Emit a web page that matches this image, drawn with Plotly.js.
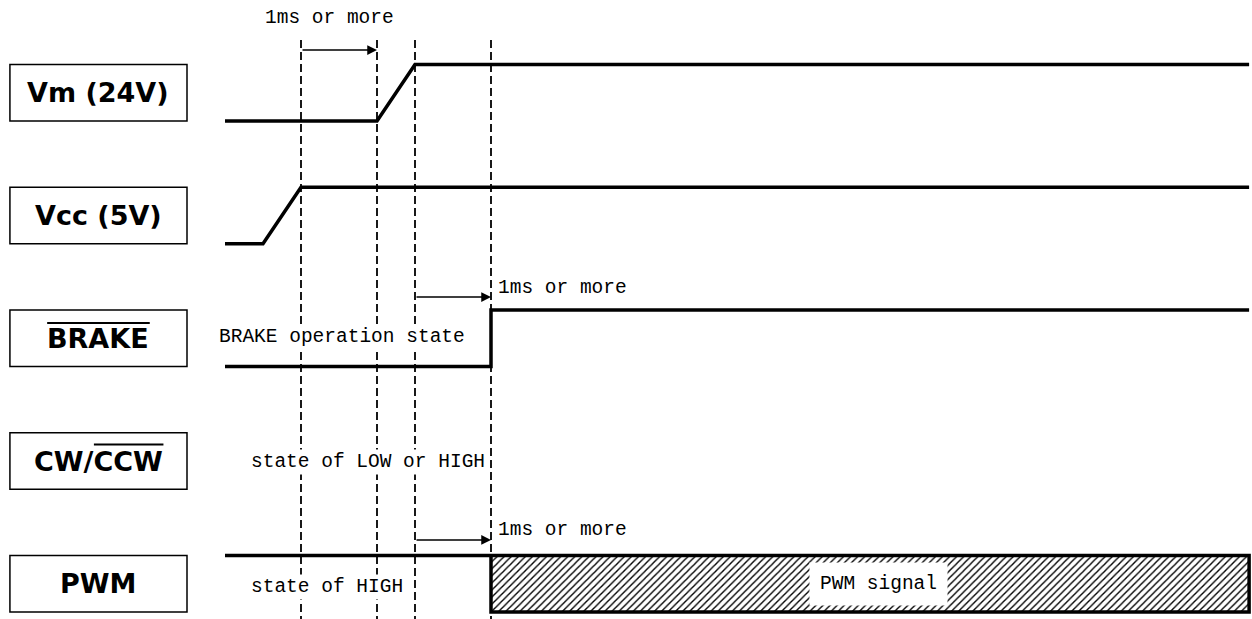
<!DOCTYPE html>
<html>
<head>
<meta charset="utf-8">
<script src="https://cdn.plot.ly/plotly-3.0.1.min.js"></script>
<style>html,body{margin:0;padding:0;background:#fff;}#chart{width:1252px;height:619px;}</style>
</head>
<body>
<div id="chart"></div>
<script>
// ---- data: timing events (time units) and logic levels (0 = LOW, 1 = HIGH) ----
const signalNames = ['Vm (24V)', 'Vcc (5V)', 'BRAKE', 'CW/CCW', 'PWM'];
const vmTimes = [0, 4, 5, 26.95];
const vmLevels = [0, 0, 1, 1];
const vccTimes = [0, 1, 2, 26.95];
const vccLevels = [0, 0, 1, 1];
const brakeTimes = [0, 7, 7, 26.95];
const brakeLevels = [0, 0, 1, 1];
const pwmIdleTimes = [0, 7];
const pwmIdleLevels = [1, 1];
const pwmSignalTimes = [7, 26.95, 26.95, 7, 7];
const pwmSignalLevels = [1, 1, 0, 0, 1];
const markerTimes = [2, 4, 5, 7];
const delayFrom = [2, 5, 5];
const delayTo = [4, 7, 7];
const delayRow = [0, 2, 4];
const delayLabel = '1ms or more';

// ---- layout constants ----
const AMP = 0.46;             // height of a HIGH level inside a row
const rowY = (row, lvl) => -row + lvl * AMP;
const arrowLevel = [1.257, 1.23, 1.276];   // vertical placement of arrows within their row
const monoFont = {family: 'Liberation Mono, DejaVu Sans Mono, monospace', size: 19.5, color: '#000'};
const boxFont = {family: 'DejaVu Sans, Liberation Sans, Arial, sans-serif', size: 27, color: '#000'};

function sig(times, levels, row, extra) {
  return Object.assign({
    type: 'scatter', mode: 'lines', x: times, y: levels.map(l => rowY(row, l)),
    line: {color: '#000', width: 3.5, shape: 'linear'}, hoverinfo: 'skip'
  }, extra || {});
}

const traces = [
  sig(vmTimes, vmLevels, 0),
  sig(vccTimes, vccLevels, 1),
  sig(brakeTimes, brakeLevels, 2),
  sig(pwmIdleTimes, pwmIdleLevels, 4),
  sig(pwmSignalTimes, pwmSignalLevels, 4, {
    fill: 'toself', fillcolor: 'rgba(0,0,0,0)',
    fillpattern: {shape: '/', size: 5, solidity: 0.28, fgcolor: '#000', bgcolor: '#fff'}
  })
];

const shapes = [];
// dashed timing markers
markerTimes.forEach(t => shapes.push({
  type: 'line', xref: 'x', yref: 'y', x0: t, x1: t, y0: 0.66, y1: -4.1,
  line: {color: '#000', width: 1.8, dash: '8px,4px'}, layer: 'below'
}));
// label boxes
signalNames.forEach((n, i) => shapes.push({
  type: 'rect', xref: 'x', yref: 'y', x0: -5.66, x1: -1.0, y0: rowY(i, 0), y1: rowY(i, 1),
  line: {color: '#000', width: 1.5}, fillcolor: 'rgba(0,0,0,0)'
}));
// overlines (active-low marks)
shapes.push({type: 'line', xref: 'x', yref: 'y', x0: -4.68, x1: -1.98, y0: -1.646, y1: -1.646, line: {color: '#000', width: 2}});
shapes.push({type: 'line', xref: 'x', yref: 'y', x0: -3.45, x1: -1.62, y0: -2.635, y1: -2.635, line: {color: '#000', width: 2}});

const annotations = [];
// label texts
signalNames.forEach((n, i) => annotations.push({
  xref: 'x', yref: 'y', x: -3.33, y: rowY(i, 0.5), text: '<b>' + n + '</b>', showarrow: false,
  font: boxFont, xanchor: 'center', yanchor: 'middle'
}));
// delay arrows
delayFrom.forEach((t0, i) => {
  const y = rowY(delayRow[i], arrowLevel[i]);
  annotations.push({
    xref: 'x', yref: 'y', axref: 'x', ayref: 'y', x: delayTo[i], y: y, ax: t0, ay: y,
    text: '', showarrow: true, arrowhead: 2, arrowsize: 1.3, arrowwidth: 1.5, arrowcolor: '#000', standoff: 0, startstandoff: 0
  });
});
// delay labels
annotations.push({xref: 'x', yref: 'y', x: 2.76, y: 0.839, text: delayLabel, showarrow: false, font: monoFont, xanchor: 'center', yanchor: 'middle'});
annotations.push({xref: 'x', yref: 'y', x: 7.12, y: -1.36, text: delayLabel, showarrow: false, font: monoFont, xanchor: 'left', yanchor: 'middle'});
annotations.push({xref: 'x', yref: 'y', x: 7.12, y: -3.33, text: delayLabel, showarrow: false, font: monoFont, xanchor: 'left', yanchor: 'middle'});
// state texts
annotations.push({xref: 'x', yref: 'y', x: -0.2, y: -1.76, text: 'BRAKE operation state', showarrow: false, font: monoFont, xanchor: 'left', yanchor: 'middle', bgcolor: '#fff'});
annotations.push({xref: 'x', yref: 'y', x: 0.64, y: -2.78, text: 'state of LOW or HIGH', showarrow: false, font: monoFont, xanchor: 'left', yanchor: 'middle', bgcolor: '#fff'});
annotations.push({xref: 'x', yref: 'y', x: 0.64, y: -3.80, text: 'state of HIGH', showarrow: false, font: monoFont, xanchor: 'left', yanchor: 'middle', bgcolor: '#fff'});
annotations.push({xref: 'x', yref: 'y', x: 17.2, y: rowY(4, 0.5), text: 'PWM signal', showarrow: false, font: monoFont, xanchor: 'center', yanchor: 'middle', bgcolor: '#fff', borderpad: 10});

const layout = {
  width: 1252, height: 619,
  margin: {l: 0, r: 0, t: 0, b: 0, pad: 0},
  paper_bgcolor: '#fff', plot_bgcolor: '#fff',
  showlegend: false,
  xaxis: {range: [-225 / 38, 1027 / 38], visible: false, fixedrange: true},
  yaxis: {range: [-4.057, 0.986], visible: false, fixedrange: true},
  shapes: shapes,
  annotations: annotations
};

Plotly.newPlot('chart', traces, layout, {staticPlot: true, displayModeBar: false});
</script>
</body>
</html>
